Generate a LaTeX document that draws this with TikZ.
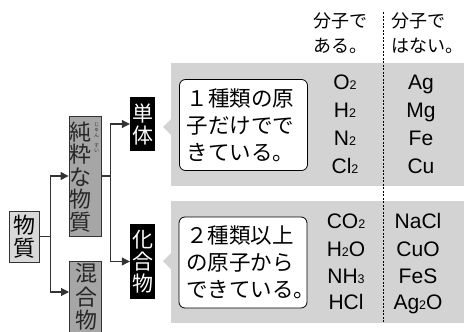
\documentclass[tikz,border=0pt]{standalone}
\usepackage{fontspec}
\setmainfont{Noto Sans CJK JP}
\newfontfamily\formfont{Liberation Sans}
\usetikzlibrary{arrows.meta}
\definecolor{panelgray}{HTML}{D3D3D3}
\definecolor{lightbox}{HTML}{D9D9D9}
\definecolor{darkbox}{HTML}{A6A6A6}
\definecolor{linegray}{HTML}{333333}
\newcommand\subn[1]{\raisebox{-0.6pt}{\fontsize{12.5}{12.5}\selectfont #1}}
\begin{document}
\begin{tikzpicture}[x=1pt,y=-1pt,
  conn/.style={draw=linegray,line width=1.1pt},
  arr/.style={conn,-{Triangle[length=8pt,width=8pt]}},
  vbox/.style={draw=linegray,line width=0.8pt,inner sep=0pt},
  vtext/.style={align=center,inner sep=0pt},
  darkvbox/.style={fill=black,inner sep=0pt,align=center,text=white,font=\fontsize{21}{22}\selectfont},
  bubble/.style={draw=black,fill=white,line width=0.8pt,rounded corners=6pt,minimum width=128pt,minimum height=91pt,inner xsep=7pt,text width=114pt,align=left,font=\fontsize{21.5}{27}\selectfont},
  head/.style={anchor=west,inner sep=0pt,font=\fontsize{18}{18}\selectfont},
  form/.style={anchor=base,inner sep=0pt,font=\formfont\fontsize{21}{21}\selectfont},
  ruby/.style={align=center,inner sep=0pt,text=linegray,font=\fontsize{5}{5.5}\selectfont}
]
\useasboundingbox (0,0) rectangle (464,332);

% gray panels
\fill[panelgray] (171,63) rectangle (464,186);
\fill[panelgray] (171,201) rectangle (464,323);
\fill[panelgray] (163,127) -- (171,119) -- (171,135) -- cycle;
\fill[panelgray] (163,261) -- (171,253) -- (171,269) -- cycle;

% dashed separator
\draw[line width=0.7pt,dash pattern=on 2pt off 1.5pt] (383,12) -- (383,323);

% headers
\node[head] (h1a) at (313,21) {分子で};
\node[head] (h1b) at (313,46) {ある。};
\node[head] (h2a) at (391,21) {分子で};
\node[head] (h2b) at (391,46) {はない。};

% left tree
\node[vbox,vtext,fill=lightbox,minimum width=30pt,minimum height=51pt,font=\fontsize{22}{23}\selectfont] (busshitsu) at (24,236.5) {物\\質};
\node[vbox,fill=darkbox,minimum width=32pt,minimum height=120pt] (junsui) at (85,176) {};
\node[vtext,text=black!85,font=\fontsize{22}{22.5}\selectfont] (junsuit) at (81,177) {純\\粋\\な\\物\\質};
\node[ruby] (ruby1) at (96.5,130) {じ\\ゅ\\ん};
\node[ruby] (ruby2) at (96.5,148) {す\\い};
\node[vbox,fill=darkbox,minimum width=32pt,minimum height=84pt] (kongou) at (85,303) {};
\node[vtext,text=black!85,font=\fontsize{22}{23.5}\selectfont] (kongout) at (86,297) {混\\合\\物};
\coordinate (kongouin) at (69,292);

\node[darkvbox,minimum width=25pt,minimum height=54pt] (tantai) at (142.5,124) {単\\体};
\node[darkvbox,minimum width=25pt,minimum height=75pt] (kagoubutsu) at (142.5,261.5) {化\\合\\物};

\draw[arr] (busshitsu.east) -- ++(11,0) |- (junsui.west);
\draw[arr] (busshitsu.east) -- ++(11,0) |- (kongouin);
\draw[arr] (junsui.east) -- ++(9,0) |- (tantai.west);
\draw[arr] (junsui.east) -- ++(9,0) |- (kagoubutsu.west);

% bubbles
\node[bubble] (b1) at (243.5,125) {１種類の原\\子だけでで\\きている。};
\node[bubble] (b2) at (243,262.5) {２種類以上\\の原子から\\できている。};

% formulas, top
\node[form] (f1) at (345,89) {O\subn{2}};
\node[form] (f2) at (345,117) {H\subn{2}};
\node[form] (f3) at (345,145) {N\subn{2}};
\node[form] (f4) at (345,173) {Cl\subn{2}};
\node[form] (g1) at (421,89) {Ag};
\node[form] (g2) at (421,117) {Mg};
\node[form] (g3) at (421,145) {Fe};
\node[form] (g4) at (421,173) {Cu};
% formulas, bottom
\node[form] (f5) at (346,228) {CO\subn{2}};
\node[form] (f6) at (346,256) {H\subn{2}O};
\node[form] (f7) at (346,283) {NH\subn{3}};
\node[form] (f8) at (346,309) {HCl};
\node[form] (g5) at (418,228) {NaCl};
\node[form] (g6) at (418,256) {CuO};
\node[form] (g7) at (418,283) {FeS};
\node[form] (g8) at (418,309) {Ag\subn{2}O};
\end{tikzpicture}
\end{document}
